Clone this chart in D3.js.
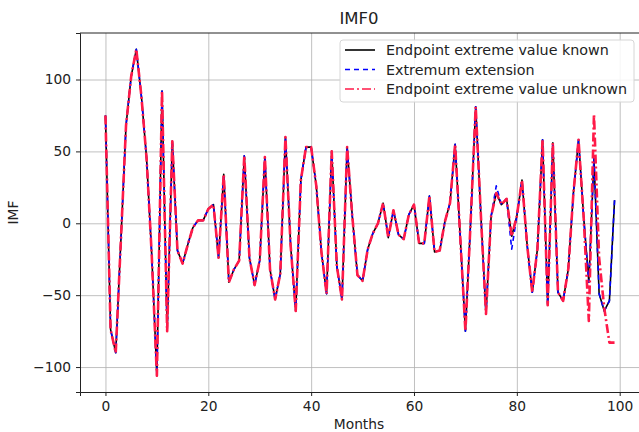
<!DOCTYPE html>
<html>
<head>
<meta charset="utf-8">
<script src="https://cdn.jsdelivr.net/npm/d3@7"></script>
<style>
  body { margin: 0; background: #fff; }
  text { font-family: "DejaVu Sans", sans-serif; }
</style>
</head>
<body>
<div id="my_dataviz"></div>
<script>
// IMF0 values, one per month (0..99)
const known = [75, -74, -90, -12, 68, 102, 121, 88, 45, -22,
    -106, 92, -75, 57, -19, -28, -15, -3, 2, 2,
    10, 13, -24, 34, -41, -32, -26, 47, -24, -43,
    -26, 46, -32, -53, -35, 60, -15, -61, 30, 53,
    53, 26, -20, -49, 50, -30, -53, 53, 5, -36,
    -40, -18, -7, 0, 14, -10, 9, -8, -11, 6,
    13, -14, -14, 19, -20, -19, 1, 14, 55, -10,
    -75, 0, 81, 6, -63, 5, 21, 13, 17, -9,
    5, 30, -15, -48, -18, 58, -57, 56, -48, -54,
    -32, 21, 58, 4, -41, 45, -49, -61, -54, 16];

// extremum extension: same as known except a couple of months
const extension = known.slice();
extension[76] = 26;
extension[79] = -18;

// endpoint extreme value unknown: differs at the right end
const unknown = known.slice(0, 94).concat([-68, 76, -24, -59, -83, -83]);

const xTicks = [0, 20, 40, 60, 80, 100];
const yTicks = [-100, -50, 0, 50, 100];

const seriesNames = ["Endpoint extreme value known", "Extremum extension", "Endpoint extreme value unknown"];

const margin = { top: 33, right: -1, bottom: 40, left: 80 },
      width = 639 - margin.left - margin.right,
      height = 432 - margin.top - margin.bottom;

const svg = d3.select("#my_dataviz").append("svg")
    .attr("width", 639)
    .attr("height", 432)
  .append("g")
    .attr("transform", `translate(${margin.left},${margin.top})`);

const n = known.length;
const xScale = d3.scaleLinear()
    .domain([-0.05 * (n - 1), (n - 1) * 1.05])
    .range([0, width]);

const all = known.concat(extension, unknown);
const [ymin, ymax] = d3.extent(all);
const pad = (ymax - ymin) * 0.05;
const yScale = d3.scaleLinear()
    .domain([ymin - pad, ymax + pad])
    .range([height, 0]);

// grid
svg.append("g")
    .attr("class", "grid")
    .attr("transform", `translate(0,${height})`)
    .call(d3.axisBottom(xScale).tickValues(xTicks).tickSize(-height).tickFormat(""))
    .call(g => g.select(".domain").remove());
svg.append("g")
    .attr("class", "grid")
    .call(d3.axisLeft(yScale).tickValues(yTicks).tickSize(-width).tickFormat(""))
    .call(g => g.select(".domain").remove());
svg.selectAll(".grid line")
    .style("stroke", "#b0b0b0")
    .style("stroke-width", 0.8);

const line = d3.line()
    .x((d, i) => xScale(i))
    .y(d => yScale(d));

// same drawing order as the legend, red on top
const styles = [
    { data: known, color: "#000000", dash: null, w: 1.6 },
    { data: extension, color: "#0000ff", dash: "5,4", w: 1.6 },
    { data: unknown, color: "#ff1a48", dash: "9,3,2,3", w: 2.6 }
];

svg.selectAll(".line")
    .data(styles)
    .enter()
    .append("path")
    .attr("class", "line")
    .attr("d", d => line(d.data))
    .style("fill", "none")
    .style("stroke", d => d.color)
    .style("stroke-width", d => d.w)
    .style("stroke-dasharray", d => d.dash)
    .style("stroke-linejoin", "round");

// axes
const xAxis = svg.append("g")
    .attr("transform", `translate(0,${height})`)
    .call(d3.axisBottom(xScale).tickValues(xTicks).tickSizeOuter(0).tickSize(4).tickPadding(5));
const yAxis = svg.append("g")
    .call(d3.axisLeft(yScale).tickValues(yTicks).tickSizeOuter(0).tickSize(4).tickPadding(5));

[xAxis, yAxis].forEach(a => {
    a.selectAll("text").style("font-size", "13.8px").style("fill", "#222");
    a.selectAll("line").style("stroke", "#222");
    a.select(".domain").style("stroke", "#222").style("stroke-width", 1);
});

svg.append("line")
    .attr("x1", 0).attr("x2", width)
    .attr("y1", 0).attr("y2", 0)
    .style("stroke", "#222");

// labels
svg.append("text")
    .attr("x", width / 2 - 1)
    .attr("y", -9)
    .attr("text-anchor", "middle")
    .style("font-size", "16.5px")
    .style("fill", "#222")
    .text("IMF0");

svg.append("text")
    .attr("x", width / 2 - 1)
    .attr("y", height + 37)
    .attr("text-anchor", "middle")
    .style("font-size", "13.8px")
    .style("fill", "#222")
    .text("Months");

svg.append("text")
    .attr("transform", `translate(${-62},${height / 2}) rotate(-90)`)
    .attr("text-anchor", "middle")
    .style("font-size", "13.8px")
    .style("fill", "#222")
    .text("IMF");

// legend
const legend = svg.append("g")
    .attr("transform", `translate(${340 - margin.left},${40 - margin.top})`);

legend.append("rect")
    .attr("width", 294)
    .attr("height", 62)
    .attr("rx", 3)
    .style("fill", "#fff")
    .style("fill-opacity", 0.85)
    .style("stroke", "#d6d6d6");

const legendStyles = [
    { color: "#000000", dash: null },
    { color: "#0000ff", dash: "5,4" },
    { color: "#ff1a48", dash: "9,3,2,3" }
];

const items = legend.selectAll(".item")
    .data(seriesNames)
    .enter()
    .append("g")
    .attr("class", "item")
    .attr("transform", (d, i) => `translate(0,${10 + i * 19.5})`);

items.append("line")
    .attr("x1", 5).attr("x2", 35)
    .attr("y1", 0).attr("y2", 0)
    .style("stroke", (d, i) => legendStyles[i].color)
    .style("stroke-dasharray", (d, i) => legendStyles[i].dash)
    .style("stroke-width", 1.6);

items.append("text")
    .attr("x", 46)
    .attr("y", 5)
    .style("font-size", "14.3px")
    .style("fill", "#222")
    .text(d => d);
</script>
</body>
</html>
